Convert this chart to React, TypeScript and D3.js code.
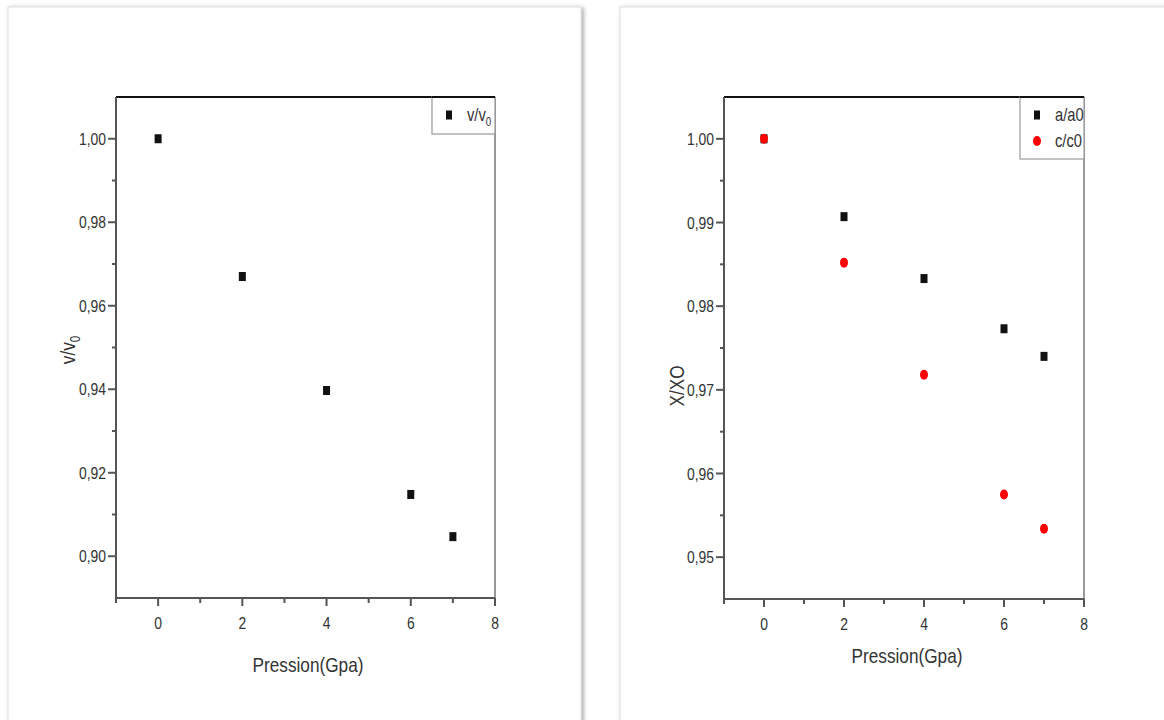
import React from "react";
import * as d3 from "d3";

const pressure = [0, 2, 4, 6, 7];
const vOverV0 = [1.0, 0.967, 0.9397, 0.9148, 0.9047];
const aOverA0 = [1.0, 0.9907, 0.9833, 0.9773, 0.974];
const cOverC0 = [1.0, 0.9852, 0.9718, 0.9575, 0.9534];
const xTicks = [0, 2, 4, 6, 8];
const leftYTicks = [0.9, 0.92, 0.94, 0.96, 0.98, 1.0];
const rightYTicks = [0.95, 0.96, 0.97, 0.98, 0.99, 1.0];

const FONT = "'Liberation Sans', Arial, sans-serif";
const SX = 0.82;
const fmt = (v: number) => v.toFixed(2).replace(".", ",");

function NText(props: { x: number; y: number; size: number; anchor?: string; rotate?: number; children: React.ReactNode }) {
  const { x, y, size, anchor, rotate, children } = props;
  return (
    <text
      transform={`translate(${x},${y})${rotate ? ` rotate(${rotate})` : ""} scale(${SX},1)`}
      textAnchor={anchor || "start"}
      fontSize={size}
      fill="#333"
    >
      {children}
    </text>
  );
}

type Series = { values: number[]; color: string; shape: "square" | "circle"; label: React.ReactNode };

function Panel(props: {
  x0: number; x1: number; y0: number; y1: number;
  yDomain: [number, number]; yTicks: number[]; minorStep: number;
  series: Series[]; yLabel: React.ReactNode; yLabelPos: [number, number];
  xLabelPos: [number, number];
  legend: { x: number; y: number; w: number; h: number };
}) {
  const { x0, x1, y0, y1, yDomain, yTicks, minorStep, series, yLabel, yLabelPos, xLabelPos, legend } = props;
  const x = d3.scaleLinear().domain([-1, 8]).range([x0, x1]);
  const y = d3.scaleLinear().domain(yDomain).range([y1, y0]);
  const xMinor = d3.range(-1, 8.01, 1).filter((v) => !xTicks.includes(v));
  const yMinor = yTicks.map((t) => t + minorStep).filter((v) => v < yDomain[1]);
  const axisCol = "#555";
  return (
    <g fontFamily={FONT}>
      {xTicks.map((t) => (
        <g key={"xt" + t}>
          <line x1={x(t)} x2={x(t)} y1={y1} y2={y1 + 8} stroke={axisCol} strokeWidth={2} />
          <NText x={x(t)} y={y1 + 31} size={17} anchor="middle">{t}</NText>
        </g>
      ))}
      {xMinor.map((t) => (
        <line key={"xm" + t} x1={x(t)} x2={x(t)} y1={y1} y2={y1 + 5} stroke={axisCol} strokeWidth={2} />
      ))}
      {yTicks.map((t) => (
        <g key={"yt" + t}>
          <line x1={x0 - 8} x2={x0} y1={y(t)} y2={y(t)} stroke={axisCol} strokeWidth={2} />
          <NText x={x0 - 10} y={y(t) + 6} size={17} anchor="end">{fmt(t)}</NText>
        </g>
      ))}
      {yMinor.map((t, i) => (
        <line key={"ym" + i} x1={x0 - 4} x2={x0} y1={y(t)} y2={y(t)} stroke={axisCol} strokeWidth={2} />
      ))}
      <line x1={x0} x2={x1} y1={y0} y2={y0} stroke="#111" strokeWidth={2} />
      <line x1={x1} x2={x1} y1={y0} y2={y1} stroke="#777" strokeWidth={1.5} />
      <line x1={x0} x2={x0} y1={y0} y2={y1} stroke={axisCol} strokeWidth={2} />
      <line x1={x0} x2={x1} y1={y1} y2={y1} stroke={axisCol} strokeWidth={2} />
      {series.map((s, si) => (
        <g key={"s" + si}>
          {s.values.map((v, i) =>
            s.shape === "square" ? (
              <rect key={i} x={x(pressure[i]) - 3.5} y={y(v) - 4.5} width={7} height={9} fill={s.color} />
            ) : (
              <ellipse key={i} cx={x(pressure[i])} cy={y(v)} rx={4} ry={5} fill={s.color} />
            )
          )}
        </g>
      ))}
      <rect x={legend.x} y={legend.y} width={legend.w} height={legend.h} fill="white" stroke="#999" strokeWidth={1.2} />
      <line x1={legend.x} x2={legend.x + legend.w} y1={legend.y} y2={legend.y} stroke="#111" strokeWidth={2} />
      {series.map((s, si) => {
        const ly = legend.y + 18 + si * 26;
        const lx = legend.x + 17;
        return (
          <g key={"l" + si}>
            {s.shape === "square" ? (
              <rect x={lx - 3} y={ly - 4.5} width={6} height={9} fill={s.color} />
            ) : (
              <ellipse cx={lx} cy={ly} rx={4} ry={5} fill={s.color} />
            )}
            <NText x={lx + 18} y={ly + 6} size={18}>{s.label}</NText>
          </g>
        );
      })}
      <NText x={xLabelPos[0]} y={xLabelPos[1]} size={21} anchor="middle">Pression(Gpa)</NText>
      <NText x={yLabelPos[0]} y={yLabelPos[1]} size={21} anchor="middle" rotate={-90}>{yLabel}</NText>
    </g>
  );
}

export default function App() {
  return (
    <svg width={1164} height={720} style={{ position: "absolute", left: 0, top: 0, background: "white" }}>
      <defs>
        <filter id="sh" x="-5%" y="-5%" width="110%" height="110%">
          <feDropShadow dx="2" dy="1" stdDeviation="2" floodColor="#000" floodOpacity="0.35" />
        </filter>
      </defs>
      <rect x={8} y={7} width={573} height={730} fill="white" stroke="#ddd" filter="url(#sh)" />
      <rect x={620} y={7} width={560} height={730} fill="white" stroke="#ddd" filter="url(#sh)" />
      <Panel
        x0={116} x1={495} y0={97} y1={598}
        yDomain={[0.89, 1.01]} yTicks={leftYTicks} minorStep={0.01}
        series={[{ values: vOverV0, color: "#111", shape: "square", label: <tspan>v/v<tspan fontSize={12} dy={5}>0</tspan></tspan> }]}
        yLabel={<tspan>v/v<tspan fontSize={14} dy={5}>0</tspan></tspan>}
        yLabelPos={[75, 350]} xLabelPos={[308, 672]}
        legend={{ x: 432, y: 97, w: 63, h: 37 }}
      />
      <Panel
        x0={724} x1={1084} y0={97} y1={599}
        yDomain={[0.945, 1.005]} yTicks={rightYTicks} minorStep={0.005}
        series={[
          { values: aOverA0, color: "#111", shape: "square", label: "a/a0" },
          { values: cOverC0, color: "#ff0000", shape: "circle", label: "c/c0" },
        ]}
        yLabel="X/XO" yLabelPos={[684, 386]} xLabelPos={[907, 663]}
        legend={{ x: 1020, y: 97, w: 64, h: 62 }}
      />
    </svg>
  );
}
